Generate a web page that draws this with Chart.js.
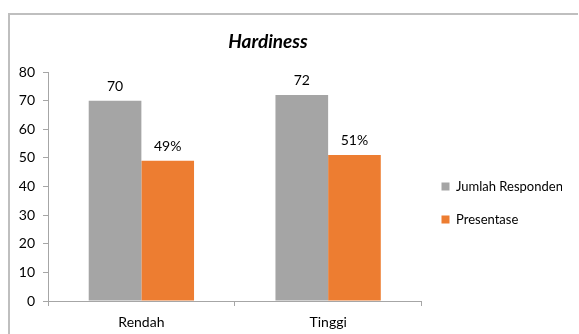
<!DOCTYPE html>
<html>
<head>
<meta charset="utf-8">
<script src="https://cdn.jsdelivr.net/npm/chart.js@4.4.0/dist/chart.umd.min.js"></script>
<style>
  html, body { margin: 0; padding: 0; background: #fff; }
  #wrap { position: relative; width: 579px; height: 334px; overflow: hidden; }
  #frame { position: absolute; left: 8px; top: 13px; width: 570px; height: 400px;
           border-top: 2px solid #bfbfbf; border-left: 2px solid #bfbfbf; box-sizing: border-box; }
  #myChart { position: absolute; left: 0; top: 0; }
</style>
</head>
<body>
<div id="wrap">
  <div id="frame"></div>
  <canvas id="myChart" width="579" height="334"></canvas>
</div>
<script>
const categories = ['Rendah', 'Tinggi'];
const jumlahResponden = [70, 72];
const presentase = [49, 51];
const seriesNames = ['Jumlah Responden', 'Presentase'];
const yTicks = [0, 10, 20, 30, 40, 50, 60, 70, 80];

const FONT = 'Lato, "Open Sans", sans-serif';

// value labels above every bar, percent sign on the second series
const valueLabels = {
    id: 'valueLabels',
    afterDatasetsDraw(chart) {
        const ctx = chart.ctx;
        ctx.save();
        ctx.font = '14px ' + FONT;
        ctx.fillStyle = '#000';
        ctx.textAlign = 'center';
        ctx.textBaseline = 'alphabetic';
        chart.data.datasets.forEach((ds, i) => {
            chart.getDatasetMeta(i).data.forEach((bar, j) => {
                const txt = ds.data[j] + (i === 1 ? '%' : '');
                ctx.fillText(txt, bar.x, bar.y - 10);
            });
        });
        ctx.restore();
    }
};

// chart title sits a bit left of the canvas centre
const chartTitle = {
    id: 'chartTitle',
    afterDraw(chart) {
        const ctx = chart.ctx;
        ctx.save();
        ctx.font = 'italic bold 19px ' + FONT;
        ctx.fillStyle = '#000';
        ctx.textAlign = 'center';
        ctx.textBaseline = 'middle';
        ctx.fillText('Hardiness', 268, 42);
        ctx.restore();
    }
};

const ctx = document.getElementById('myChart').getContext('2d');
const myChart = new Chart(ctx, {
    type: 'bar',
    data: {
        labels: categories,
        datasets: [{
            label: seriesNames[0],
            data: jumlahResponden,
            backgroundColor: '#a5a5a5',
            borderWidth: 0
        }, {
            label: seriesNames[1],
            data: presentase,
            backgroundColor: '#ed7d31',
            borderWidth: 0
        }]
    },
    options: {
        responsive: false,
        animation: false,
        maintainAspectRatio: false,
        categoryPercentage: 0.564,
        barPercentage: 1,
        layout: { padding: { top: 72, bottom: 0, left: 0, right: 17 } },
        plugins: {
            legend: {
                position: 'right',
                labels: {
                    boxWidth: 8,
                    boxHeight: 8,
                    padding: 20,
                    color: '#000',
                    font: { family: FONT, size: 13 }
                }
            },
            tooltip: { enabled: false }
        },
        scales: {
            x: {
                offset: true,
                afterFit(scale) { scale.height = 33; },
                grid: { offset: true, drawOnChartArea: false, color: '#a6a6a6', tickLength: 5 },
                border: { color: '#a6a6a6' },
                ticks: { color: '#000', padding: 8, font: { family: FONT, size: 14 } }
            },
            y: {
                min: 0,
                max: 80,
                afterFit(scale) { scale.width = 48; },
                afterBuildTicks(scale) { scale.ticks = yTicks.map(v => ({ value: v })); },
                grid: { drawOnChartArea: false, color: '#a6a6a6', tickLength: 5 },
                border: { color: '#a6a6a6' },
                ticks: { color: '#000', padding: 8, font: { family: FONT, size: 14 } }
            }
        }
    },
    plugins: [valueLabels, chartTitle]
});
</script>
</body>
</html>
